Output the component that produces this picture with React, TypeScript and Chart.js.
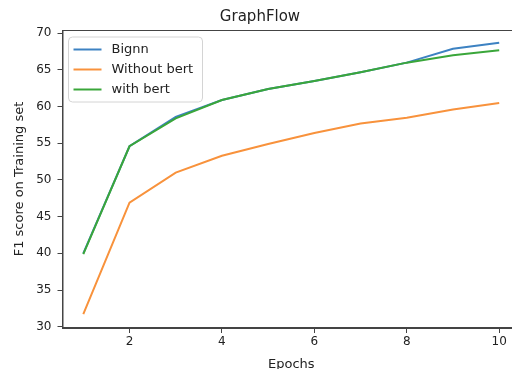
import React, { useEffect, useRef } from "react";
import { Chart, registerables } from "chart.js";

Chart.register(...registerables);

const epochs = [1, 2, 3, 4, 5, 6, 7, 8, 9, 10];
const bignn = [40.0, 54.6, 58.6, 60.9, 62.4, 63.5, 64.7, 66.0, 67.9, 68.7];
const withoutBert = [31.7, 46.9, 51.0, 53.3, 54.9, 56.4, 57.7, 58.5, 59.6, 60.5];
const withBert = [39.9, 54.6, 58.4, 60.9, 62.4, 63.5, 64.7, 66.0, 67.0, 67.7];
const seriesLabels = ["Bignn", "Without bert", "with bert"];
const seriesColors = ["#3d82c2", "#f8923c", "#3aa63a"];
const xTicks = [2, 4, 6, 8, 10];
const yTicks = [30, 35, 40, 45, 50, 55, 60, 65, 70];

const FONT = "'DejaVu Sans', sans-serif";

const framePlugin = {
  id: "frameAndLegend",
  afterDatasetsDraw(chart: any) {
    const ctx = chart.ctx;
    const ca = chart.chartArea;
    ctx.save();
    ctx.strokeStyle = "#444";
    ctx.lineWidth = 1;
    ctx.strokeRect(ca.left + 0.5, ca.top + 0.5, ca.right - ca.left - 1, ca.bottom - ca.top - 1);

    // legend
    const bx = ca.left + 6;
    const by = ca.top + 7;
    const bw = 134;
    const bh = 65;
    const r = 4;
    ctx.beginPath();
    ctx.moveTo(bx + r, by);
    ctx.lineTo(bx + bw - r, by);
    ctx.quadraticCurveTo(bx + bw, by, bx + bw, by + r);
    ctx.lineTo(bx + bw, by + bh - r);
    ctx.quadraticCurveTo(bx + bw, by + bh, bx + bw - r, by + bh);
    ctx.lineTo(bx + r, by + bh);
    ctx.quadraticCurveTo(bx, by + bh, bx, by + bh - r);
    ctx.lineTo(bx, by + r);
    ctx.quadraticCurveTo(bx, by, bx + r, by);
    ctx.closePath();
    ctx.fillStyle = "rgba(255,255,255,0.85)";
    ctx.fill();
    ctx.strokeStyle = "#d4d4d4";
    ctx.lineWidth = 1;
    ctx.stroke();

    ctx.font = `13px ${FONT}`;
    ctx.textBaseline = "middle";
    ctx.textAlign = "left";
    chart.data.datasets.forEach((ds: any, i: number) => {
      const y = by + 12.5 + i * 20;
      ctx.strokeStyle = ds.borderColor;
      ctx.lineWidth = 2;
      ctx.beginPath();
      ctx.moveTo(bx + 5, y);
      ctx.lineTo(bx + 33, y);
      ctx.stroke();
      ctx.fillStyle = "#222";
      ctx.fillText(ds.label, bx + 43, y);
    });
    ctx.restore();
  },
};

export default function App() {
  const ref = useRef<HTMLCanvasElement | null>(null);

  useEffect(() => {
    if (!ref.current) return;
    const mk = (vals: number[]) => epochs.map((e, i) => ({ x: e, y: vals[i] }));
    const all = [bignn, withoutBert, withBert];
    const chart = new Chart(ref.current, {
      type: "line",
      data: {
        datasets: all.map((vals, i) => ({
          label: seriesLabels[i],
          data: mk(vals),
          borderColor: seriesColors[i],
          backgroundColor: seriesColors[i],
          borderWidth: 2,
          pointRadius: 0,
          tension: 0,
          order: 2 - i,
        })),
      },
      options: {
        responsive: false,
        animation: false,
        devicePixelRatio: 1,
        layout: { padding: { left: 0, right: 0, top: 0, bottom: 0 } },
        plugins: {
          legend: { display: false },
          tooltip: { enabled: false },
          title: {
            display: true,
            text: "GraphFlow",
            color: "#222",
            font: { family: FONT, size: 15, weight: "normal" },
            padding: { top: 8.5, bottom: 3.5 },
          },
        },
        scales: {
          x: {
            type: "linear",
            min: 0.55,
            max: 10.45,
            afterBuildTicks: (axis: any) => {
              axis.ticks = xTicks.map((v) => ({ value: v }));
            },
            afterFit: (axis: any) => {
              axis.height = 52;
            },
            grid: { drawOnChartArea: false, drawTicks: true, tickLength: 5, tickColor: "#444" },
            border: { display: true, color: "#444" },
            ticks: {
              color: "#222",
              font: { family: FONT, size: 12 },
              padding: 2,
              maxRotation: 0,
              autoSkip: false,
            },
            title: {
              display: true,
              text: "Epochs",
              color: "#222",
              font: { family: FONT, size: 13 },
              padding: { top: 0, bottom: 8 },
            },
          },
          y: {
            type: "linear",
            min: 29.82,
            max: 70.45,
            afterBuildTicks: (axis: any) => {
              axis.ticks = yTicks.map((v) => ({ value: v }));
            },
            afterFit: (axis: any) => {
              axis.width = 62.5;
            },
            grid: { drawOnChartArea: false, drawTicks: true, tickLength: 5, tickColor: "#444" },
            border: { display: true, color: "#444" },
            ticks: {
              color: "#222",
              font: { family: FONT, size: 12 },
              padding: 6,
              autoSkip: false,
            },
            title: {
              display: true,
              text: "F1 score on Training set",
              color: "#222",
              font: { family: FONT, size: 13 },
              padding: { top: 12, bottom: 0 },
            },
          },
        },
      },
      plugins: [framePlugin],
    } as any);
    return () => chart.destroy();
  }, []);

  return (
    <div
      style={{
        position: "fixed",
        left: 0,
        top: 0,
        width: 512,
        height: 369,
        overflow: "hidden",
        background: "#fff",
      }}
    >
      <canvas ref={ref} width={520} height={380} style={{ display: "block" }} />
    </div>
  );
}
